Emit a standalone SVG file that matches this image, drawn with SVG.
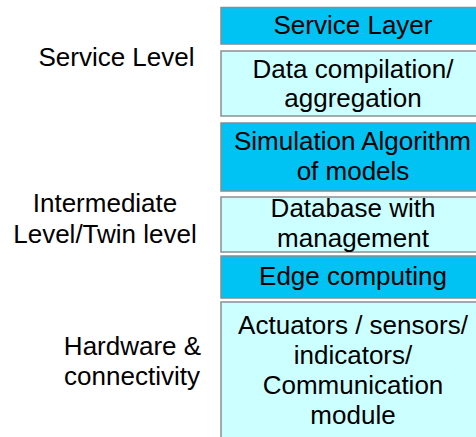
<svg xmlns="http://www.w3.org/2000/svg" width="476" height="437" viewBox="0 0 476 437">
<style>
text{font-family:"Liberation Sans",Arial,sans-serif;font-size:26px;fill:#000;text-anchor:middle}
.d{fill:#00c3f3;stroke:#7f8f94;stroke-width:1.5}
.l{fill:#ccffff;stroke:#8a9090;stroke-width:1.5}
</style>
<rect width="476" height="437" fill="#fff"/>
<g id="label-service"><text x="116.5" y="66">Service Level</text></g>
<g id="label-intermediate"><text x="105" y="212">Intermediate</text><text x="105" y="243">Level/Twin level</text></g>
<g id="label-hardware"><text x="132.5" y="355">Hardware &amp;</text><text x="132" y="385">connectivity</text></g>
<g id="service-layer"><rect class="d" x="221" y="7.5" width="264" height="36.5"/><text x="353" y="34">Service Layer</text></g>
<g id="data-compilation"><rect class="l" x="221" y="51" width="264" height="65"/><text x="353" y="78">Data compilation/</text><text x="353" y="107">aggregation</text></g>
<g id="simulation"><rect class="d" x="221" y="123" width="264" height="68"/><text x="352.5" y="150">Simulation Algorithm</text><text x="353" y="180">of models</text></g>
<g id="database"><rect class="l" x="221" y="197" width="264" height="55"/><text x="353" y="217">Database with</text><text x="353" y="247">management</text></g>
<g id="edge"><rect class="d" x="221" y="256" width="264" height="42"/><text x="353" y="285">Edge computing</text></g>
<g id="hardware"><rect class="l" x="221" y="302" width="264" height="145"/><text x="353" y="334">Actuators / sensors/</text><text x="353" y="364">indicators/</text><text x="353" y="394">Communication</text><text x="353" y="424">module</text></g>
<g id="connectors"></g>
</svg>
